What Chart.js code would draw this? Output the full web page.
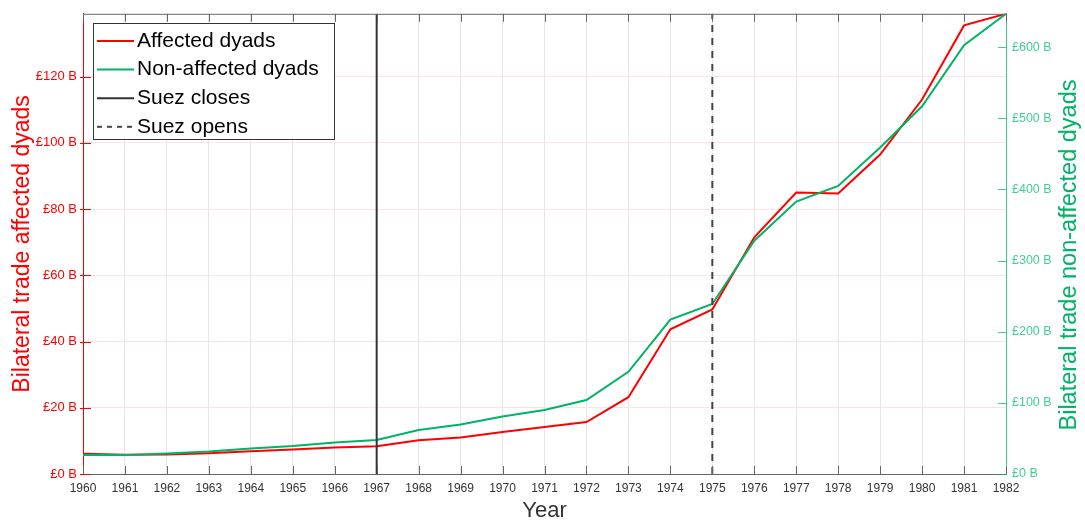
<!DOCTYPE html>
<html>
<head>
<meta charset="utf-8">
<script src="https://cdn.jsdelivr.net/npm/chart.js@4.4.1/dist/chart.umd.min.js"></script>
<style>
  html, body { margin: 0; padding: 0; background: #fff; }
  #wrap { width: 1085px; height: 522px; }
</style>
</head>
<body>
<div id="wrap"><canvas id="tradeChart" width="1085" height="522"></canvas></div>
<script>
const years = [1960, 1961, 1962, 1963, 1964, 1965, 1966, 1967, 1968, 1969, 1970, 1971,
  1972, 1973, 1974, 1975, 1976, 1977, 1978, 1979, 1980, 1981, 1982];
// £ billions, left axis
const affected = [6.1, 5.8, 5.9, 6.3, 6.9, 7.4, 8.0, 8.4, 10.2, 11.0, 12.7, 14.2,
  15.7, 23.2, 43.7, 49.7, 71.5, 85.0, 84.7, 96.5, 113.1, 135.5, 139.0];
// £ billions, right axis
const nonAffected = [26.7, 26.7, 28.8, 31.6, 35.8, 39.3, 44.2, 47.8, 61.8, 69.5, 80.8, 89.9,
  104, 143.6, 217, 239, 328, 383, 405, 459, 517, 603, 647];
const suezCloses = 1967;
const suezOpens = 1975;
const leftMax = 139;
const rightMax = 647;
const legendLabels = ['Affected dyads', 'Non-affected dyads', 'Suez closes', 'Suez opens'];
const rightTitle = 'Bilateral trade non-affected dyads';

const RED = '#ff0000';
const GREEN = '#00b366';
const GREEN_AXIS = 'rgba(0,190,110,0.75)';
const FONT = '"Liberation Sans", Arial, Helvetica, sans-serif';

const insideTicks = {
  id: 'insideTicks',
  afterDraw(chart) {
    const { ctx, chartArea: a, scales } = chart;
    ctx.save();
    ctx.lineWidth = 1;
    const seg = (x1, y1, x2, y2, c) => {
      ctx.strokeStyle = c;
      ctx.beginPath(); ctx.moveTo(x1, y1); ctx.lineTo(x2, y2); ctx.stroke();
    };
    seg(a.left, a.top + 0.5, a.right, a.top + 0.5, '#666');
    scales.x.ticks.forEach(t => {
      const px = Math.round(scales.x.getPixelForValue(t.value)) + 0.5;
      seg(px, a.bottom, px, a.bottom - 8, '#666');
      seg(px, a.top, px, a.top + 8, '#666');
    });
    scales.y.ticks.forEach(t => {
      const py = Math.round(scales.y.getPixelForValue(t.value)) + 0.5;
      seg(a.left - 3, py, a.left + 8, py, RED);
    });
    scales.y1.ticks.forEach(t => {
      const py = Math.round(scales.y1.getPixelForValue(t.value)) + 0.5;
      seg(a.right - 8, py, a.right, py, GREEN_AXIS);
    });
    // right axis title reads bottom-to-top like the left one
    ctx.translate(1070, 255);
    ctx.rotate(-Math.PI / 2);
    ctx.font = '23.5px ' + FONT;
    ctx.fillStyle = GREEN;
    ctx.textAlign = 'center';
    ctx.textBaseline = 'middle';
    ctx.fillText(rightTitle, 0, 0);
    ctx.restore();
  }
};

const boxLegend = {
  id: 'boxLegend',
  afterDraw(chart) {
    const { ctx } = chart;
    const x = 93.5, y = 23.5, w = 241, h = 116;
    ctx.save();
    ctx.fillStyle = '#fff';
    ctx.fillRect(x, y, w, h);
    ctx.strokeStyle = '#333';
    ctx.lineWidth = 1;
    ctx.strokeRect(x, y, w, h);
    ctx.font = '21px ' + FONT;
    ctx.textBaseline = 'middle';
    chart.data.datasets.forEach((ds, i) => {
      const ry = 41 + i * 28.6;
      ctx.strokeStyle = ds.borderColor;
      ctx.lineWidth = 2;
      ctx.setLineDash(ds.borderDash && ds.borderDash.length ? [5, 5] : []);
      ctx.beginPath(); ctx.moveTo(97, ry); ctx.lineTo(134, ry); ctx.stroke();
      ctx.setLineDash([]);
      ctx.fillStyle = '#000';
      ctx.fillText(legendLabels[i], 137, ry);
    });
    ctx.restore();
  }
};

new Chart(document.getElementById('tradeChart'), {
  type: 'line',
  data: {
    datasets: [
      {
        label: legendLabels[0],
        data: years.map((yr, i) => ({ x: yr, y: affected[i] })),
        borderColor: RED, borderWidth: 2, pointRadius: 0, yAxisID: 'y', order: 2
      },
      {
        label: legendLabels[1],
        data: years.map((yr, i) => ({ x: yr, y: nonAffected[i] })),
        borderColor: GREEN, borderWidth: 2, pointRadius: 0, yAxisID: 'y1', order: 1
      },
      {
        label: legendLabels[2],
        data: [{ x: suezCloses, y: 0 }, { x: suezCloses, y: leftMax }],
        borderColor: '#333', borderWidth: 2, pointRadius: 0, yAxisID: 'y', order: 0
      },
      {
        label: legendLabels[3],
        data: [{ x: suezOpens, y: 0 }, { x: suezOpens, y: leftMax }],
        borderColor: '#444', borderWidth: 2, borderDash: [7, 6], pointRadius: 0, yAxisID: 'y', order: 0
      }
    ]
  },
  options: {
    responsive: false,
    animation: false,
    layout: { padding: { top: 13, left: 0, right: 0, bottom: 0 } },
    plugins: { legend: { display: false }, tooltip: { enabled: false } },
    scales: {
      x: {
        type: 'linear', min: 1960, max: 1982,
        afterFit: s => { s.height = 48; },
        ticks: {
          stepSize: 1, color: '#333', padding: 7, maxRotation: 0, autoSkip: false,
          font: { family: FONT, size: 12 },
          callback: v => String(v)
        },
        grid: { color: '#e6e6e6', drawTicks: false },
        border: { color: '#666', width: 1 },
        title: {
          display: true, text: 'Year', color: '#333',
          font: { family: FONT, size: 22, lineHeight: 1 }, padding: { top: 0, bottom: 0 }
        }
      },
      y: {
        position: 'left', min: 0, max: leftMax,
        afterFit: s => { s.width = 83; },
        ticks: {
          stepSize: 20, includeBounds: false, color: RED, padding: 6,
          font: { family: FONT, size: 13 },
          callback: v => '£' + v + ' B'
        },
        grid: { color: '#ffe2e2', drawTicks: false },
        border: { color: RED, width: 1 },
        title: {
          display: true, text: 'Bilateral trade affected dyads', color: RED,
          font: { family: FONT, size: 23, lineHeight: 1 }, padding: { top: 11, bottom: 0 }
        }
      },
      y1: {
        position: 'right', min: 0, max: rightMax,
        afterFit: s => { s.width = 79; },
        ticks: {
          stepSize: 100, includeBounds: false, color: GREEN_AXIS, padding: 6,
          font: { family: FONT, size: 12.5 },
          callback: v => '£' + v + ' B'
        },
        grid: { drawOnChartArea: false, drawTicks: false },
        border: { color: GREEN_AXIS, width: 1 }
      }
    }
  },
  plugins: [insideTicks, boxLegend]
});
</script>
</body>
</html>
